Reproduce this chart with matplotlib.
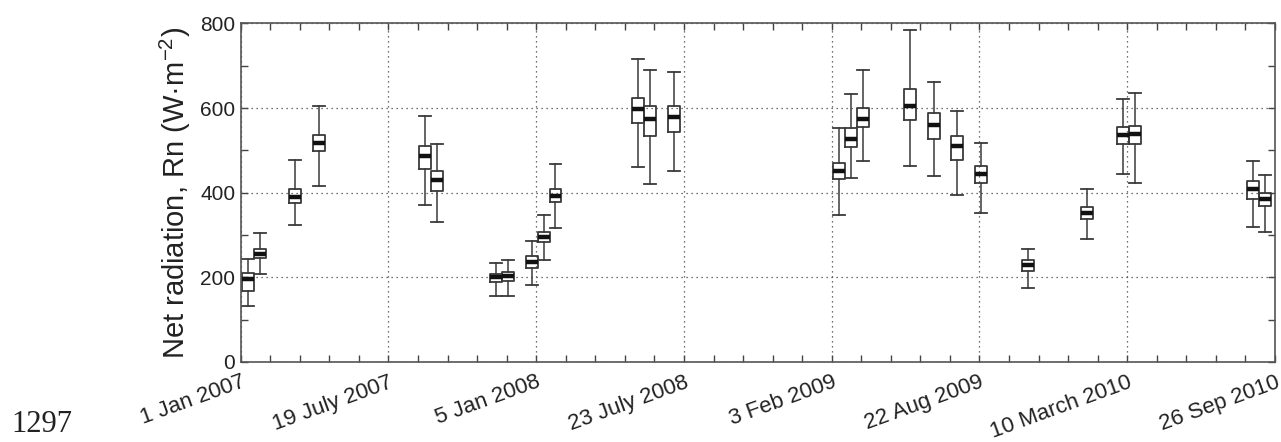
import numpy as np
import matplotlib
matplotlib.use("Agg")
import matplotlib.pyplot as plt
from matplotlib.ticker import MultipleLocator

plt.rcParams['font.family'] = ['Liberation Sans', 'DejaVu Sans']
plt.rcParams['mathtext.fontset'] = 'custom'
plt.rcParams['mathtext.rm'] = 'Liberation Sans'
plt.rcParams['mathtext.it'] = 'Liberation Sans'

# box positions on the time axis (5 units between labelled dates)
pos = [0.25, 0.65, 1.85, 2.65, 6.25, 6.65, 8.65, 9.05, 9.85, 10.25, 10.65,
       13.45, 13.85, 14.65, 20.25, 20.65, 21.05, 22.65, 23.45, 24.25, 25.05,
       26.65, 28.65, 29.85, 30.25, 34.25, 34.65]
whislo = [132, 208, 323, 417, 372, 330, 157, 157, 183, 241, 317,
          460, 420, 452, 347, 434, 474, 463, 440, 395, 353,
          176, 290, 445, 423, 318, 306]
q1 = [168, 246, 375, 499, 455, 404, 188, 191, 221, 283, 378,
      564, 534, 544, 432, 509, 556, 571, 526, 477, 423,
      216, 338, 515, 515, 385, 368]
med = [197, 256, 390, 518, 486, 430, 200, 203, 237, 296, 393,
       597, 575, 578, 451, 528, 575, 605, 560, 511, 445,
       229, 353, 537, 539, 409, 384]
q3 = [211, 268, 408, 537, 511, 452, 208, 212, 250, 308, 409,
      623, 606, 606, 471, 553, 599, 646, 588, 534, 462,
      241, 367, 555, 558, 427, 399]
whishi = [243, 305, 477, 606, 581, 516, 234, 241, 286, 347, 467,
          716, 690, 685, 553, 633, 690, 784, 661, 594, 517,
          266, 409, 621, 636, 474, 442]

date_labels = ['1 Jan 2007', '19 July 2007', '5 Jan 2008', '23 July 2008',
               '3 Feb 2009', '22 Aug 2009', '10 March 2010', '26 Sep 2010']

stats = []
for i in range(len(pos)):
    stats.append({'whislo': whislo[i], 'q1': q1[i], 'med': med[i],
                  'q3': q3[i], 'whishi': whishi[i], 'fliers': []})

fig = plt.figure(figsize=(12.81, 4.42), dpi=100)
ax = fig.add_axes([0.1879, 0.181, 0.8074, 0.766])

edge = '#3a3a3a'
ax.bxp(stats, positions=pos, widths=0.4, capwidths=0.4, showfliers=False,
       manage_ticks=False,
       boxprops=dict(color=edge, linewidth=1.3),
       whiskerprops=dict(color=edge, linewidth=1.1, linestyle='-'),
       capprops=dict(color=edge, linewidth=1.3),
       medianprops=dict(color='#111111', linewidth=3.2, solid_capstyle='butt'))

ax.set_xlim(0, 35)
ax.set_ylim(0, 800)
ax.set_xticks(np.arange(0, 36, 5))
ax.set_xticklabels(date_labels, rotation=20, ha='right', rotation_mode='anchor')
ax.xaxis.set_minor_locator(MultipleLocator(1))
ax.set_yticks([0, 200, 400, 600, 800])
ax.yaxis.set_minor_locator(MultipleLocator(100))

ax.tick_params(which='both', direction='in', top=True, right=True,
               length=5, width=1, color='#444444')
ax.tick_params(axis='x', which='major', labelsize=16, labelcolor='#222222', pad=7)
ax.tick_params(axis='y', which='major', labelsize=15, labelcolor='#222222', pad=4)

ax.grid(True, which='major', linestyle=(0, (1, 3)), color='#444444', linewidth=0.9)
for s in ax.spines.values():
    s.set_color('#555555')
    s.set_linewidth(1.2)

ax.set_ylabel('Net radiation, Rn (W\u00b7m$^{\\mathrm{-2}}$)', fontsize=21, color='#222222', labelpad=5)

fig.text(0.009, 0.006, '1297', fontsize=22, family=['Liberation Serif', 'DejaVu Serif'],
         color='#222222', va='bottom')

fig.savefig('out.png', dpi=100)
